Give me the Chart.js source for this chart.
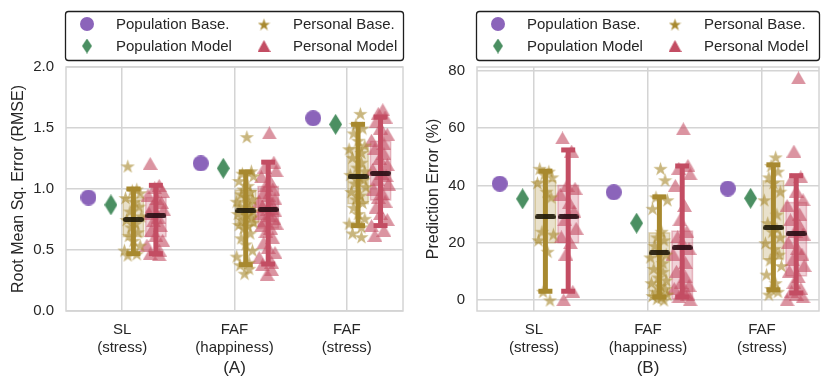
<!DOCTYPE html>
<html>
<head>
<meta charset="utf-8">
<script src="https://cdn.jsdelivr.net/npm/chart.js@4.4.1/dist/chart.umd.min.js"></script>
<style>
  body { margin: 0; background: #fff; }
  #wrap { position: relative; width: 831px; height: 389px; }
  canvas { position: absolute; top: 0; }
</style>
</head>
<body>
<div id="wrap">
  <canvas id="chartA" width="415" height="389" style="left:0"></canvas>
  <canvas id="chartB" width="416" height="389" style="left:415px"></canvas>
</div>
<script>
const categories = [["SL", "(stress)"], ["FAF", "(happiness)"], ["FAF", "(stress)"]];
const legendNames = ["Population Base.", "Population Model", "Personal Base.", "Personal Model"];

// (A) RMSE
const rmsePopBase = [0.93, 1.21, 1.58];
const rmsePopModel = [0.87, 1.17, 1.53];
const rmseBaseBox = [[0.61, 0.93], [0.70, 0.99], [0.88, 1.34]];
const rmseBaseMedian = [0.75, 0.82, 1.10];
const rmseBaseBar = [[0.47, 1.00], [0.38, 1.14], [0.70, 1.53]];
const rmseModelBox = [[0.61, 0.93], [0.68, 1.02], [0.91, 1.39]];
const rmseModelMedian = [0.78, 0.83, 1.13];
const rmseModelBar = [[0.47, 1.03], [0.385, 1.22], [0.70, 1.59]];
const rmseBasePts = [
  [1.19, 1.00, 0.99, 0.97, 0.93, 0.90, 0.86, 0.82, 0.78, 0.75, 0.72, 0.69, 0.65, 0.62, 0.58, 0.54, 0.50, 0.47, 0.46],
  [1.43, 1.15, 1.13, 1.11, 1.07, 1.03, 1.00, 0.98, 0.96, 0.94, 0.92, 0.90, 0.88, 0.86, 0.84, 0.83, 0.82, 0.80, 0.79, 0.77, 0.75, 0.73, 0.71, 0.70, 0.68, 0.64, 0.60, 0.55, 0.50, 0.45, 0.40, 0.38, 0.35, 0.31],
  [1.62, 1.53, 1.50, 1.46, 1.40, 1.36, 1.33, 1.30, 1.26, 1.22, 1.18, 1.15, 1.12, 1.10, 1.08, 1.05, 1.02, 0.98, 0.95, 0.92, 0.89, 0.85, 0.80, 0.76, 0.72, 0.69, 0.64, 0.61]
];
const rmseModelPts = [
  [1.21, 1.03, 1.01, 0.98, 0.95, 0.92, 0.89, 0.86, 0.83, 0.80, 0.77, 0.74, 0.70, 0.66, 0.62, 0.58, 0.54, 0.50, 0.47, 0.46],
  [1.46, 1.22, 1.18, 1.15, 1.10, 1.06, 1.03, 1.00, 0.97, 0.95, 0.92, 0.90, 0.88, 0.86, 0.84, 0.83, 0.82, 0.80, 0.78, 0.76, 0.74, 0.72, 0.70, 0.68, 0.65, 0.60, 0.56, 0.52, 0.48, 0.44, 0.40, 0.38, 0.34, 0.30],
  [1.65, 1.62, 1.59, 1.55, 1.50, 1.45, 1.40, 1.37, 1.33, 1.29, 1.25, 1.20, 1.16, 1.13, 1.11, 1.08, 1.04, 1.00, 0.96, 0.93, 0.90, 0.85, 0.80, 0.75, 0.70, 0.66, 0.62]
];
const rmseTicks = [0, 0.5, 1.0, 1.5, 2.0];

// (B) prediction error %
const errPopBase = [40.6, 37.6, 38.9];
const errPopModel = [35.3, 26.8, 35.5];
const errBaseBox = [[20, 41.6], [1.4, 23.4], [14.3, 41.6]];
const errBaseMedian = [29, 16.4, 25.2];
const errBaseBar = [[3, 45], [1, 36], [3.5, 47.2]];
const errModelBox = [[20, 40], [0.3, 24], [8.4, 34]];
const errModelMedian = [29, 18.2, 23.1];
const errModelBar = [[3, 52.4], [1, 46.8], [2.4, 43.4]];
const errBasePts = [
  [46, 45, 44, 43, 41, 38, 36, 24, 23, 21, 17, 3, 0],
  [46, 42, 36, 35, 32, 24, 22, 21, 19, 17, 16, 15, 13, 11, 10, 8, 7, 6, 5, 4, 3, 2, 1.5, 1, 0.5, 0],
  [50, 47, 45, 43, 41, 38, 35, 30, 27, 25, 24, 22, 20, 18, 16, 14, 12, 9, 6, 4, 3, 2]
];
const errModelPts = [
  [56.6, 52, 40, 39, 37, 34, 31, 28, 25, 22, 20, 16, 3, 0],
  [59.8, 47, 46, 44, 40, 33, 28, 24, 22, 20, 18, 16, 13, 10, 8, 6, 5, 4, 3, 2, 1, 0],
  [77.6, 52, 43, 42, 38, 35, 33, 30, 28, 26, 24, 23, 20, 18, 16, 14, 12, 10, 8, 6, 4, 3, 2, 1, 0]
];
const errTicks = [0, 20, 40, 60, 80];

// strip jitter (fixed pattern)
const jitter = [-0.05, 0.03, -0.01, 0.06, -0.07, 0.01, 0.05, -0.03, 0.07, -0.06, 0.02, -0.02, 0.04, -0.04, 0.0, 0.06, -0.08, 0.03];

const FONT = "'Liberation Sans', Arial, sans-serif";
const TXT = '#262626';
const GRID = '#d4d4d4';
const PURPLE = '#8b64ba', GREEN = '#4b8f62', GOLD = '#a8892f', RED = '#c34d63';

function shape(kind, w, h, color) {
  const c = document.createElement('canvas');
  c.width = w; c.height = h;
  const g = c.getContext('2d');
  g.fillStyle = color;
  g.beginPath();
  if (kind === 'circle') {
    g.arc(w / 2, h / 2, w / 2, 0, Math.PI * 2);
  } else if (kind === 'diamond') {
    g.moveTo(w / 2, 0); g.lineTo(w, h / 2); g.lineTo(w / 2, h); g.lineTo(0, h / 2);
  } else if (kind === 'triangle') {
    g.moveTo(w / 2, 0); g.lineTo(w, h); g.lineTo(0, h);
  } else if (kind === 'star') {
    const R = w / 2, r = R * 0.382;
    for (let k = 0; k < 10; k++) {
      const a = -Math.PI / 2 + k * Math.PI / 5;
      const rr = k % 2 ? r : R;
      const px = w / 2 + rr * Math.cos(a), py = h / 2 + 1 + rr * Math.sin(a);
      k ? g.lineTo(px, py) : g.moveTo(px, py);
    }
  } else if (kind === 'dash') {
    g.roundRect(0, 0, w, h, h / 2);
  }
  g.closePath();
  g.fill();
  return c;
}

const mk = {
  circle: shape('circle', 16, 16, PURPLE),
  diamond: shape('diamond', 13, 21, GREEN),
  star: shape('star', 15, 15, 'rgba(168,137,47,0.62)'),
  tri: shape('triangle', 15, 13, 'rgba(195,77,99,0.6)'),
  dashA: shape('dash', 21, 5, 'rgba(35,28,12,0.92)'),
  dashB: shape('dash', 21, 5, 'rgba(45,15,22,0.92)'),
  legCircle: shape('circle', 14, 14, PURPLE),
  legDiamond: shape('diamond', 10, 15, GREEN),
  legStar: shape('star', 13, 13, GOLD),
  legTri: shape('triangle', 13, 12, RED)
};

function makePanel(id, p) {
  const ds = [];
  // medians on top
  ds.push({ order: 0, data: p.baseMed.map((v, i) => ({ x: i + 0.1, y: v })), pointStyle: mk.dashA, pointRadius: 5 });
  ds.push({ order: 0, data: p.modelMed.map((v, i) => ({ x: i + 0.3, y: v })), pointStyle: mk.dashB, pointRadius: 5 });
  // error bars
  [[p.baseBar, 0.1, GOLD], [p.modelBar, 0.3, RED]].forEach(([bars, off, col]) => {
    bars.forEach((b, i) => {
      ds.push({
        order: 1, showLine: true, borderColor: col, borderWidth: 5,
        data: [{ x: i + off, y: b[0] }, { x: i + off, y: b[1] }],
        pointStyle: 'line', pointRadius: 7, pointBorderWidth: 5, pointBorderColor: col
      });
    });
  });
  // individual points
  [[p.basePts, 0.1, mk.star], [p.modelPts, 0.3, mk.tri]].forEach(([sets, off, img]) => {
    const data = [];
    sets.forEach((vals, i) => vals.forEach((v, j) => {
      data.push({ x: i + off + jitter[(j + i * 5) % jitter.length], y: v });
    }));
    ds.push({ order: 2, data, pointStyle: img, pointRadius: 5 });
  });
  // population markers
  ds.push({ order: 3, data: p.popBase.map((v, i) => ({ x: i - 0.3, y: v })), pointStyle: mk.circle, pointRadius: 5 });
  ds.push({ order: 3, data: p.popModel.map((v, i) => ({ x: i - 0.1, y: v })), pointStyle: mk.diamond, pointRadius: 5 });

  const boxPlugin = {
    id: 'boxes',
    beforeDatasetsDraw(chart) {
      const { ctx, chartArea: a, scales: { x, y } } = chart;
      ctx.save();
      [[p.baseBox, 0.1, 'rgba(168,137,47,0.25)', 'rgba(168,137,47,0.35)'],
       [p.modelBox, 0.3, 'rgba(195,77,99,0.25)', 'rgba(195,77,99,0.35)']].forEach(([boxes, off, fill, stroke]) => {
        boxes.forEach((b, i) => {
          const x0 = x.getPixelForValue(i + off - 0.09), x1 = x.getPixelForValue(i + off + 0.09);
          const y0 = y.getPixelForValue(b[1]), y1 = y.getPixelForValue(b[0]);
          ctx.fillStyle = fill;
          ctx.fillRect(x0, y0, x1 - x0, y1 - y0);
          ctx.strokeStyle = stroke; ctx.lineWidth = 1.5;
          ctx.strokeRect(x0, y0, x1 - x0, y1 - y0);
        });
      });
      // frame
      ctx.strokeStyle = GRID; ctx.lineWidth = 1.5;
      ctx.strokeRect(a.left, a.top, a.right - a.left, a.bottom - a.top);
      ctx.restore();
    }
  };

  const legendPlugin = {
    id: 'gridLegend',
    afterDraw(chart) {
      const { ctx, chartArea: a } = chart;
      ctx.save();
      ctx.beginPath();
      ctx.roundRect(a.left - 0.5, 11.5, a.right - a.left + 1, 49, 3);
      ctx.fillStyle = '#fff'; ctx.fill();
      ctx.strokeStyle = '#1e1e1e'; ctx.lineWidth = 1.3; ctx.stroke();
      const items = [
        [mk.legCircle, legendNames[0], a.left + 21, 24],
        [mk.legDiamond, legendNames[1], a.left + 21, 46],
        [mk.legStar, legendNames[2], a.left + 198, 24],
        [mk.legTri, legendNames[3], a.left + 198, 46]
      ];
      ctx.font = '15px ' + FONT;
      ctx.fillStyle = TXT;
      ctx.textBaseline = 'middle';
      items.forEach(([img, label, mx, my]) => {
        ctx.drawImage(img, mx - img.width / 2, my - img.height / 2);
        ctx.fillText(label, mx + 29, my + 1);
      });
      ctx.restore();
    }
  };

  return new Chart(document.getElementById(id), {
    type: 'scatter',
    data: { datasets: ds },
    options: {
      responsive: false,
      animation: false,
      devicePixelRatio: 1,
      layout: { padding: { top: 67, right: p.padRight, left: 0, bottom: 0 } },
      plugins: { legend: { display: false }, tooltip: { enabled: false } },
      scales: {
        x: {
          type: 'linear', min: -0.5, max: 2.5,
          afterBuildTicks: s => { s.ticks = [0, 1, 2].map(v => ({ value: v })); },
          afterFit: s => { s.height = 78; },
          grid: { color: GRID, lineWidth: 1.5, drawTicks: false },
          border: { display: false },
          ticks: { color: TXT, font: { family: FONT, size: 15 }, padding: 10, maxRotation: 0,
                   callback: v => categories[v] },
          title: { display: true, text: p.panel, color: TXT, font: { family: FONT, size: 17 },
                   padding: { top: 0, bottom: 10 } }
        },
        y: {
          min: p.yMin, max: p.yMax,
          afterBuildTicks: s => { s.ticks = p.ticks.map(v => ({ value: v })); },
          afterFit: s => { s.width = p.axisW; },
          grid: { color: GRID, lineWidth: 1.5, drawTicks: false },
          border: { display: false },
          ticks: { color: TXT, font: { family: FONT, size: 15 }, padding: 12,
                   callback: v => p.fmt(v) },
          title: { display: true, text: p.yTitle, color: TXT, font: { family: FONT, size: 16 },
                   padding: { top: 9, bottom: 0 } }
        }
      }
    },
    plugins: [boxPlugin, legendPlugin]
  });
}

makePanel('chartA', {
  popBase: rmsePopBase, popModel: rmsePopModel,
  baseBox: rmseBaseBox, baseMed: rmseBaseMedian, baseBar: rmseBaseBar, basePts: rmseBasePts,
  modelBox: rmseModelBox, modelMed: rmseModelMedian, modelBar: rmseModelBar, modelPts: rmseModelPts,
  ticks: rmseTicks, yMin: 0, yMax: 2.0, fmt: v => v.toFixed(1),
  yTitle: 'Root Mean Sq. Error (RMSE)', panel: '(A)', axisW: 66, padRight: 7
});

makePanel('chartB', {
  popBase: errPopBase, popModel: errPopModel,
  baseBox: errBaseBox, baseMed: errBaseMedian, baseBar: errBaseBar, basePts: errBasePts,
  modelBox: errModelBox, modelMed: errModelMedian, modelBar: errModelBar, modelPts: errModelPts,
  ticks: errTicks, yMin: -3.9, yMax: 81.4, fmt: v => String(v),
  yTitle: 'Prediction Error (%)', panel: '(B)', axisW: 62, padRight: 12
});
</script>
</body>
</html>
